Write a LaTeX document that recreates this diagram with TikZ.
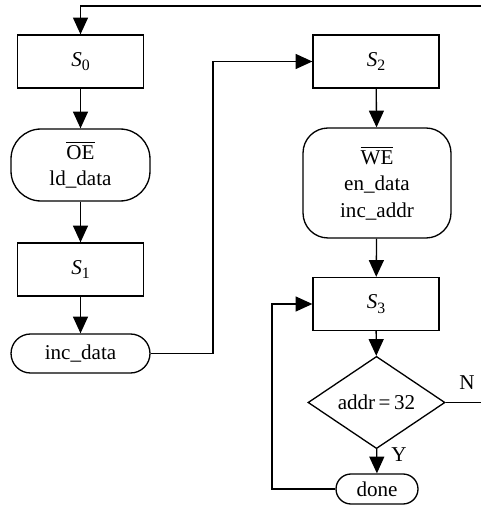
\documentclass[tikz,border=0pt]{standalone}
\usepackage{amsmath}
\usepackage{fontspec}
\setmainfont{Liberation Serif}
\usepackage{tikz}
\usetikzlibrary{arrows.meta, positioning, shapes.geometric, calc}

\newcommand{\stname}[1]{\textit{S}\raisebox{-0.45ex}{\small #1}}

\begin{document}
\begin{tikzpicture}[
  x=0.02cm, y=-0.02cm,
  line width=0.75pt,
  arr/.style={-{Triangle[length=9.5pt, width=8.5pt]}},
  statebox/.style={rectangle, draw, minimum width=2.52cm, minimum height=1.06cm, inner sep=0pt},
  outbox/.style={rectangle, draw, rounded corners=#1, align=center, inner sep=0pt},
  test/.style={diamond, draw, minimum width=2.74cm, minimum height=1.42cm, inner sep=0pt},
  every node/.style={font=\fontsize{12}{15}\selectfont}
]
  \useasboundingbox (0,0) rectangle (480,506);

  \node[statebox] (S0) at (80.5, 61.5) {\stname{0}};
  \node[outbox=0.6cm, minimum width=2.78cm, minimum height=1.44cm] (oe) at (80.5, 165) {$\overline{\text{OE}}$\\ld\_data};
  \node[statebox] (S1) at (80.5, 269.5) {\stname{1}};
  \node[outbox=0.39cm, minimum width=2.78cm, minimum height=0.78cm] (incd) at (80.5, 353.5) {inc\_data};

  \node[statebox] (S2) at (376, 61.5) {\stname{2}};
  \node[outbox=0.5cm, minimum width=2.96cm, minimum height=2.2cm] (we) at (377, 183) {$\overline{\text{WE}}$\\en\_data\\inc\_addr};
  \node[statebox] (S3) at (376, 304) {\stname{3}};
  \node[test] (chk) at (376.5, 402.5) {addr\,=\,32};
  \node[outbox=0.3cm, minimum width=1.64cm, minimum height=0.6cm] (done) at (377, 489) {done};

  \node (lN) at (467, 383) {N};
  \node (lY) at (399, 455) {Y};

  \coordinate (bend1) at (213, 61.5);
  \coordinate (bend2) at (272, 304);
  \coordinate (ret) at (484, 6);

  \draw[arr] (S0) -- (oe);
  \draw[arr] (oe) -- (S1);
  \draw[arr] (S1) -- (incd);
  \draw[arr] (incd.east) -| (bend1) -- (S2.west);
  \draw[arr] (S2) -- (we);
  \draw[arr] (we) -- (S3);
  \draw[arr] (S3) -- (chk);
  \draw[arr] (chk) -- (done);
  \draw[arr] (done.west) -| (bend2) -- (S3.west);
  \draw[arr] (chk.east) -| (ret) -| (S0.north);
\end{tikzpicture}
\end{document}
